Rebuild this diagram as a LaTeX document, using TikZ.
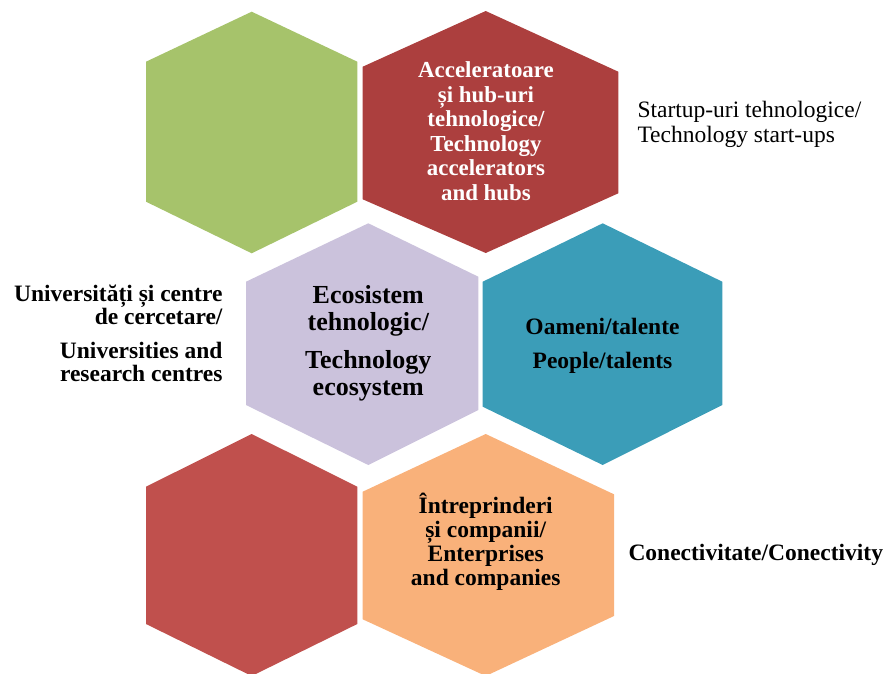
\documentclass[tikz,border=0pt]{standalone}
\usepackage{fontspec}
\setmainfont{Liberation Serif}
\definecolor{greenhex}{HTML}{A6C36B}
\definecolor{redtop}{HTML}{AC3F3E}
\definecolor{purplehex}{HTML}{CBC2DC}
\definecolor{tealhex}{HTML}{3B9DB8}
\definecolor{redbot}{HTML}{C0504D}
\definecolor{orangehex}{HTML}{F9B17A}
\tikzset{
  hextext/.style={inner sep=0pt, align=center, font=\bfseries\fontsize{23.5}{24.5}\selectfont},
  sidetext/.style={inner sep=0pt, font=\bfseries\fontsize{23.5}{22.8}\selectfont}
}
\begin{document}
\begin{tikzpicture}[x=1pt,y=-1pt]
\useasboundingbox (0,0) rectangle (887,673);
\clip (0,0) rectangle (887,673);
% hexagons
\fill[greenhex] (251.7,11.7) -- (357.3,61.7) -- (357.3,201.7) -- (251.7,253.3) -- (146,201.7) -- (146,61.7) -- cycle;
\fill[redtop] (485.7,11) -- (618.3,71.7) -- (618.3,193.3) -- (485.7,253) -- (362.7,199.3) -- (362.7,66.7) -- cycle;
\fill[purplehex] (368.3,223.3) -- (478.3,276.7) -- (478.3,410) -- (368.3,465) -- (246,405) -- (246,281.7) -- cycle;
\fill[tealhex] (602.7,223.3) -- (722.3,281.7) -- (722.3,405) -- (602.7,465) -- (482.7,406.7) -- (482.7,281.7) -- cycle;
\fill[redbot] (251.7,434) -- (357.3,486.7) -- (357.3,624) -- (251.7,676) -- (146,624) -- (146,486.7) -- cycle;
\fill[orangehex] (485.7,434) -- (614,494.3) -- (614,616) -- (485.7,676) -- (362.7,619.3) -- (362.7,491.7) -- cycle;
% texts
\node[hextext, text=white, font=\bfseries\fontsize{22.9}{24.5}\selectfont, anchor=north] (acc) at (486,61.5)
  {Acceleratoare\\și hub-uri\\tehnologice/\\Technology\\accelerators\\and hubs};
\node[hextext, font=\bfseries\fontsize{26}{26.7}\selectfont, anchor=north] (eco) at (368.3,285.5)
  {Ecosistem\\tehnologic/\\[11.6pt]Technology\\ecosystem};
\node[hextext, font=\bfseries\fontsize{23.5}{34.3}\selectfont, anchor=north] (oam) at (602.5,318)
  {Oameni/talente\\People/talents};
\node[hextext, font=\bfseries\fontsize{23.5}{24.1}\selectfont, anchor=north] (intr) at (485.7,493)
  {Întreprinderi\\și companii/\\Enterprises\\and companies};
\node[sidetext, align=right, anchor=north east] (univ) at (222.7,284.7)
  {Universități și centre\\de cercetare/\\[11.2pt]Universities and\\research centres};
\node[inner sep=0pt, align=left, font=\fontsize{23.5}{25}\selectfont, anchor=north west] (start) at (637.3,100.7)
  {Startup-uri tehnologice/\\Technology start-ups};
\node[sidetext, anchor=base west] (conn) at (628.3,560.7) {Conectivitate/Conectivity};
\end{tikzpicture}
\end{document}
